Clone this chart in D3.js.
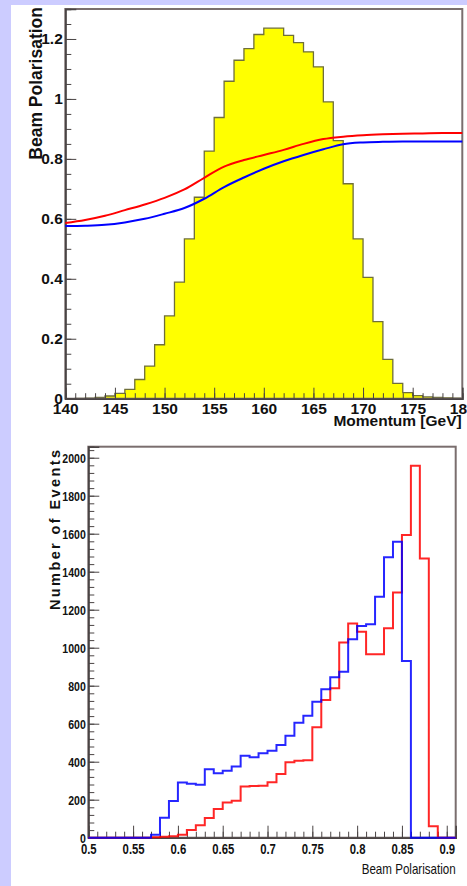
<!DOCTYPE html>
<html>
<head>
<meta charset="utf-8">
<script src="https://cdn.jsdelivr.net/npm/d3@7"></script>
<style>
  body { margin: 0; background: #ccccff; overflow: hidden; }
  svg { display: block; }
</style>
</head>
<body>
<script>
const width = 467;
const height = 886;

// ---- top panel data: momentum spectrum (1 GeV bins) and polarisation curves
const momBins = [140, 141, 142, 143, 144, 145, 146, 147, 148, 149,
                 150, 151, 152, 153, 154, 155, 156, 157, 158, 159,
                 160, 161, 162, 163, 164, 165, 166, 167, 168, 169,
                 170, 171, 172, 173, 174, 175, 176, 177, 178, 179];
const momCounts = [0, 0.001, 0.002, 0.004, 0.009, 0.018, 0.031, 0.064, 0.109, 0.18,
                   0.276, 0.389, 0.533, 0.672, 0.826, 0.938, 1.059, 1.129, 1.168, 1.215,
                   1.236, 1.236, 1.212, 1.188, 1.157, 1.107, 0.99, 0.861, 0.717, 0.533,
                   0.405, 0.257, 0.131, 0.051, 0.02, 0.01, 0.006, 0.004, 0.003, 0.002];

const curveMom = [140, 142, 144, 146, 148, 150, 152, 154, 156, 158, 160,
                  162, 164, 166, 168, 170, 172, 174, 176, 178, 180];
const polRed = [0.586, 0.596, 0.610, 0.629, 0.648, 0.670, 0.698, 0.737, 0.774, 0.796, 0.813,
                0.830, 0.850, 0.866, 0.874, 0.879, 0.882, 0.884, 0.885, 0.886, 0.886];
const polBlue = [0.576, 0.577, 0.580, 0.588, 0.600, 0.617, 0.636, 0.667, 0.706, 0.738, 0.767,
                 0.792, 0.813, 0.832, 0.849, 0.855, 0.857, 0.858, 0.858, 0.858, 0.858];

const momTicks = [140, 145, 150, 155, 160, 165, 170, 175, 180];
const momTickLabels = ["140", "145", "150", "155", "160", "165", "170", "175", "180"];
const polTicks = [0, 0.2, 0.4, 0.6, 0.8, 1, 1.2];
const polTickLabels = ["0", "0.2", "0.4", "0.6", "0.8", "1", "1.2"];

// ---- bottom panel data: events vs beam polarisation (0.01 bins)
const polBins = [0.50, 0.51, 0.52, 0.53, 0.54, 0.55, 0.56, 0.57, 0.58, 0.59,
                 0.60, 0.61, 0.62, 0.63, 0.64, 0.65, 0.66, 0.67, 0.68, 0.69,
                 0.70, 0.71, 0.72, 0.73, 0.74, 0.75, 0.76, 0.77, 0.78, 0.79,
                 0.80, 0.81, 0.82, 0.83, 0.84, 0.85, 0.86, 0.87, 0.88, 0.89, 0.90];
const blueEvents = [0, 0, 0, 0, 0, 0, 0, 15, 105, 193,
                    291, 284, 279, 360, 339, 352, 375, 431, 424, 445,
                    458, 488, 536, 605, 642, 716, 781, 844, 874, 1044,
                    1114, 1123, 1268, 1476, 1558, 930, 0, 0, 0, 0, 0];
const redEvents = [0, 0, 0, 0, 0, 0, 0, 3, 5, 7,
                   15, 40, 65, 104, 151, 185, 195, 270, 272, 273,
                   292, 335, 397, 405, 408, 582, 725, 787, 1028, 1128,
                   1084, 965, 965, 1102, 1291, 1593, 1958, 1470, 60, 0, 0];

const bpTicks = [0.5, 0.55, 0.6, 0.65, 0.7, 0.75, 0.8, 0.85, 0.9];
const bpTickLabels = ["0.5", "0.55", "0.6", "0.65", "0.7", "0.75", "0.8", "0.85", "0.9"];
const evTicks = [0, 200, 400, 600, 800, 1000, 1200, 1400, 1600, 1800, 2000];
const evTickLabels = ["0", "200", "400", "600", "800", "1000", "1200", "1400", "1600", "1800", "2000"];

const font = "'Liberation Sans', Arial, Helvetica, sans-serif";
const frameColor = "#7a6e6e";
const axisColor = "#4a4444";

const svg = d3.select("body").append("svg")
  .attr("width", width)
  .attr("height", height);

svg.append("rect")
  .attr("x", 11).attr("y", 5)
  .attr("width", width - 11).attr("height", height - 5)
  .attr("fill", "white");

function styleAxis(g, size, weight) {
  g.select(".domain").attr("stroke", axisColor).attr("stroke-width", 1.5);
  g.selectAll(".tick line").attr("stroke", axisColor).attr("stroke-width", 1);
  g.selectAll("text")
    .attr("font-family", font)
    .attr("font-size", size)
    .attr("font-weight", weight)
    .attr("fill", "#111");
}

// squeeze text horizontally, to mimic the condensed Helvetica of the lower pad
function narrow(sel, f) {
  sel.each(function() {
    const w = this.getComputedTextLength();
    if (w > 0) d3.select(this).attr("textLength", w * f).attr("lengthAdjust", "spacingAndGlyphs");
  });
}

// ================= top panel =================
const xMom = d3.scaleLinear().domain([140, 180]).range([65.3, 462.3]);
const yPol = d3.scaleLinear().domain([0, 1.3]).range([398.7, 9]);

const histPts = momBins.map((b, i) => [b, momCounts[i]])
  .concat([[180, momCounts[momCounts.length - 1]]]);

svg.append("path")
  .datum(histPts)
  .attr("fill", "#ffff00")
  .attr("d", d3.area()
    .curve(d3.curveStepAfter)
    .x(d => xMom(d[0]))
    .y0(yPol(0))
    .y1(d => yPol(d[1])));

svg.append("path")
  .datum(histPts)
  .attr("fill", "none")
  .attr("stroke", "#6f6f3a")
  .attr("stroke-width", 1.3)
  .attr("d", d3.line()
    .curve(d3.curveStepAfter)
    .x(d => xMom(d[0]))
    .y(d => yPol(d[1])));

svg.append("rect")
  .attr("x", xMom(140)).attr("y", yPol(1.3))
  .attr("width", xMom(180) - xMom(140))
  .attr("height", yPol(0) - yPol(1.3))
  .attr("fill", "none")
  .attr("stroke", frameColor)
  .attr("stroke-width", 2);

// minor ticks
svg.append("g")
  .attr("transform", `translate(0,${yPol(0)})`)
  .call(d3.axisBottom(xMom).tickValues(d3.range(140, 181, 1)).tickSize(-5.5).tickFormat(""))
  .call(g => styleAxis(g, 15.5, "bold"));
svg.append("g")
  .attr("transform", `translate(${xMom(140)},0)`)
  .call(d3.axisLeft(yPol).tickValues(d3.range(0, 1.3, 0.05)).tickSize(-6).tickFormat(""))
  .call(g => styleAxis(g, 15.5, "bold"));

// major ticks
svg.append("g")
  .attr("transform", `translate(0,${yPol(0)})`)
  .call(d3.axisBottom(xMom).tickValues(momTicks).tickSize(-11).tickPadding(4.5)
    .tickFormat((d, i) => momTickLabels[i]))
  .call(g => styleAxis(g, 15.5, "bold"));
svg.append("g")
  .attr("transform", `translate(${xMom(140)},0)`)
  .call(d3.axisLeft(yPol).tickValues(polTicks).tickSize(-11).tickPadding(2.5)
    .tickFormat((d, i) => polTickLabels[i]))
  .call(g => styleAxis(g, 15.5, "bold"));

const polLine = d3.line().curve(d3.curveMonotoneX);

svg.append("path")
  .datum(curveMom.map((m, i) => [xMom(m), yPol(polRed[i])]))
  .attr("fill", "none")
  .attr("stroke", "#ff0000")
  .attr("stroke-width", 2)
  .attr("d", polLine);

svg.append("path")
  .datum(curveMom.map((m, i) => [xMom(m), yPol(polBlue[i])]))
  .attr("fill", "none")
  .attr("stroke", "#0000ff")
  .attr("stroke-width", 2)
  .attr("d", polLine);

svg.append("text")
  .attr("transform", "translate(41.7,7) rotate(-90)")
  .attr("text-anchor", "end")
  .attr("font-family", font)
  .attr("font-weight", "bold")
  .attr("font-size", 17.5)
  .attr("fill", "#111")
  .text("Beam Polarisation");

svg.append("text")
  .attr("x", 461.7).attr("y", 426)
  .attr("text-anchor", "end")
  .attr("font-family", font)
  .attr("font-weight", "bold")
  .attr("font-size", 15.5)
  .attr("fill", "#111")
  .text("Momentum [GeV]");

// ================= bottom panel =================
const xBp = d3.scaleLinear().domain([0.5, 0.91]).range([88.3, 455.7]);
const yEv = d3.scaleLinear().domain([0, 2058]).range([837.7, 446.7]);

svg.append("rect")
  .attr("x", xBp(0.5)).attr("y", yEv(2058))
  .attr("width", xBp(0.91) - xBp(0.5))
  .attr("height", yEv(0) - yEv(2058))
  .attr("fill", "none")
  .attr("stroke", frameColor)
  .attr("stroke-width", 2);

svg.append("g")
  .attr("transform", `translate(0,${yEv(0)})`)
  .call(d3.axisBottom(xBp).tickValues(d3.range(0.5, 0.905, 0.01)).tickSize(-6).tickFormat(""))
  .call(g => styleAxis(g, 13.5, "bold"));
svg.append("g")
  .attr("transform", `translate(${xBp(0.5)},0)`)
  .call(d3.axisLeft(yEv).tickValues(d3.range(0, 2041, 40)).tickSize(-6).tickFormat(""))
  .call(g => styleAxis(g, 13.5, "bold"));

svg.append("g")
  .attr("transform", `translate(0,${yEv(0)})`)
  .call(d3.axisBottom(xBp).tickValues(bpTicks).tickSize(-12).tickPadding(6.5)
    .tickFormat((d, i) => bpTickLabels[i]))
  .call(g => styleAxis(g, 14.5, "bold"))
  .call(g => narrow(g.selectAll("text"), 0.78));
svg.append("g")
  .attr("transform", `translate(${xBp(0.5)},0)`)
  .call(d3.axisLeft(yEv).tickValues(evTicks).tickSize(-11).tickPadding(2.5)
    .tickFormat((d, i) => evTickLabels[i]))
  .call(g => styleAxis(g, 13.5, "bold"))
  .call(g => narrow(g.selectAll("text"), 0.78));

const stepLine = d3.line()
  .curve(d3.curveStepAfter)
  .x(d => xBp(d[0]))
  .y(d => yEv(d[1]));

[[redEvents, "#ff0000"], [blueEvents, "#0000ff"]].forEach(([vals, col]) => {
  const pts = polBins.map((b, i) => [b, vals[i]]).concat([[0.91, vals[vals.length - 1]]]);
  svg.append("path")
    .datum(pts)
    .attr("fill", "none")
    .attr("stroke", col)
    .attr("stroke-width", 2)
    .attr("stroke-opacity", 0.85)
    .attr("d", stepLine);
});

svg.append("text")
  .attr("transform", "translate(59.5,450) rotate(-90)")
  .attr("text-anchor", "end")
  .attr("font-family", font)
  .attr("font-weight", "bold")
  .attr("font-size", 14.5)
  .attr("textLength", 160)
  .attr("lengthAdjust", "spacing")
  .attr("fill", "#111")
  .text("Number of Events");

svg.append("text")
  .attr("x", 455.7).attr("y", 874)
  .attr("text-anchor", "end")
  .attr("font-family", font)
  .attr("font-size", 15)
  .attr("textLength", 94)
  .attr("lengthAdjust", "spacingAndGlyphs")
  .attr("fill", "#111")
  .text("Beam Polarisation");
</script>
</body>
</html>
